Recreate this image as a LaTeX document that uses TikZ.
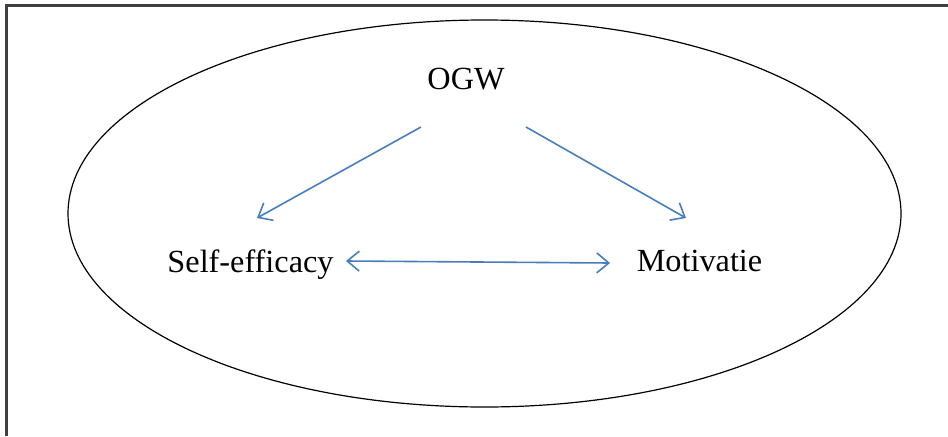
\documentclass[tikz,border=0pt]{standalone}
\usepackage{fontspec}
\setmainfont{Liberation Serif}
\usetikzlibrary{arrows.meta}
\definecolor{arrowblue}{RGB}{74,126,187}
\definecolor{framegray}{RGB}{64,64,64}
\tikzset{
  mybarb/.tip={Straight Barb[length=9pt,width=15pt,line width=1.2pt]},
  label text/.style={inner sep=0pt, anchor=base, font=\fontsize{24.2pt}{28pt}\selectfont},
  link/.style={draw=arrowblue, line width=1.2pt, -{mybarb}},
  twolink/.style={draw=arrowblue, line width=1.2pt, {mybarb}-{mybarb}},
  frame/.style={draw=framegray, line width=1.8pt},
  oval/.style={draw=black, line width=0.9pt}
}
\begin{document}
\begin{tikzpicture}[x=0.75pt,y=-0.75pt]
\useasboundingbox (0,0) rectangle (948,436);
\draw[frame] (6.5,436) -- (6.5,5.5) -- (948,5.5);
\draw[oval] (484.5,213.5) ellipse [x radius=416.5, y radius=193.5];
\node[label text] (ogw) at (466,89) {OGW};
\node[label text] (self) at (250.5,272) {Self-efficacy};
\node[label text] (mot) at (699.5,271) {Motivatie};
\coordinate (ogwL) at ([shift={(-45,38)}]ogw.base);
\coordinate (ogwR) at ([shift={(60,38)}]ogw.base);
\coordinate (selfT) at ([shift={(6.5,-54)}]self.base);
\coordinate (motT) at ([shift={(-13.5,-53)}]mot.base);
\coordinate (selfR) at ([shift={(95.5,-11)}]self.base);
\coordinate (motL) at ([shift={(-89.5,-8)}]mot.base);
\draw[link] (ogwL) -- (selfT);
\draw[link] (ogwR) -- (motT);
\draw[twolink] (selfR) -- (motL);
\end{tikzpicture}
\end{document}
